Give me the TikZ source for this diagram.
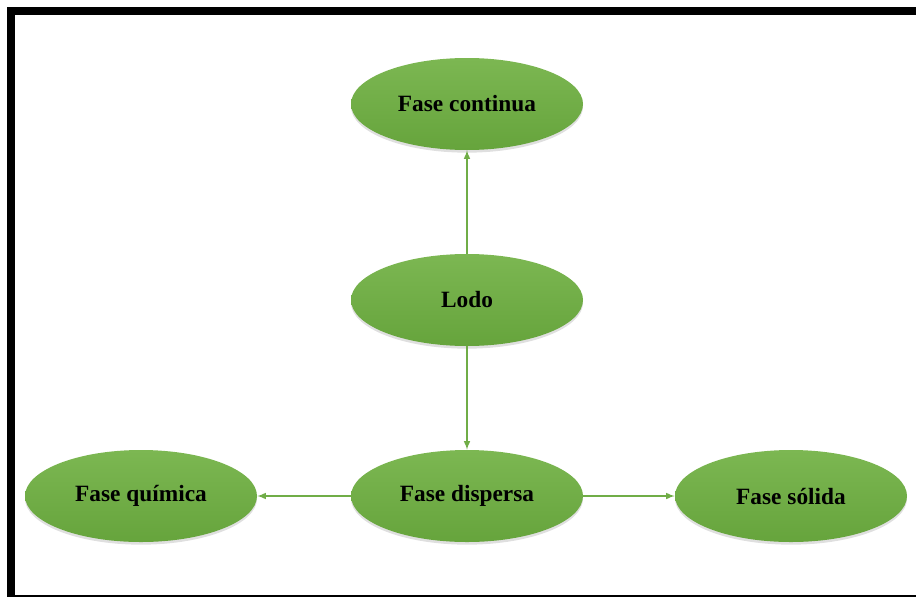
\documentclass[tikz,border=0pt]{standalone}
\usepackage{fontspec}
\setmainfont{Liberation Serif}
\usepackage{tikz}
\usetikzlibrary{shapes.geometric, arrows, shadows}
\definecolor{fasetop}{RGB}{124,183,82}
\definecolor{fasebot}{RGB}{102,164,60}
\definecolor{faseline}{RGB}{112,173,71}
\tikzstyle{fase} = [ellipse, minimum width=174pt, minimum height=69pt, inner sep=0pt, text centered, top color=fasetop, bottom color=fasebot, drop shadow={opacity=0.25, shadow xshift=0pt, shadow yshift=-2pt}, font=\fontsize{17.5}{20}\selectfont\bfseries]
\tikzstyle{arrow} = [line width=1.2pt, draw=faseline, ->, >=latex]

\begin{document}
\begin{tikzpicture}[x=0.75pt, y=-0.75pt, node distance=147pt]
	\useasboundingbox (0,0) rectangle (916,596);
	\clip (0,0) rectangle (916,596);
	\draw [line width=6pt] (11,11) rectangle (930,599);
	\node (lodo) [fase] at (467,300) {Lodo};
	\node (cont) [fase, above of=lodo] {Fase continua};
	\node (disp) [fase, below of=lodo] {Fase dispersa};
	\node (quim) [fase, left of=disp, node distance=244.5pt] {Fase química};
	\node (soli) [fase, right of=disp, node distance=243pt] {Fase sólida};
	\draw [arrow] (lodo) -- (cont);
	\draw [arrow] (lodo) -- (disp);
	\draw [arrow] (disp) -- (quim);
	\draw [arrow] (disp) -- (soli);
\end{tikzpicture}
\end{document}
